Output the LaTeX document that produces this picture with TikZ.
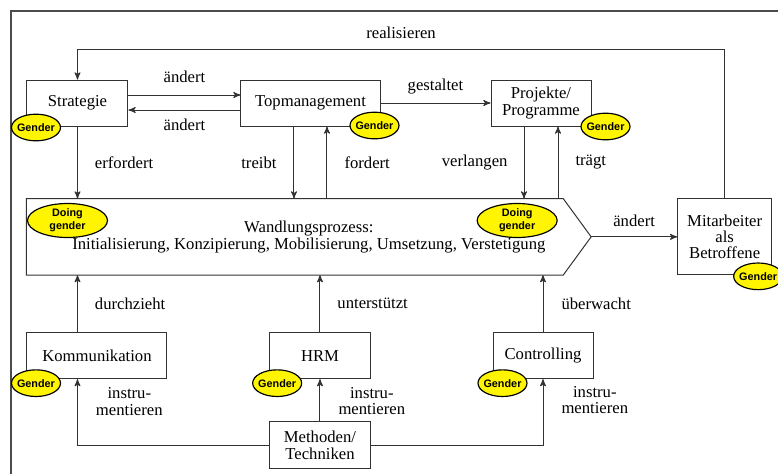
\documentclass[tikz,border=0pt]{standalone}
\usepackage{fontspec}
\setmainfont{Liberation Serif}
\newfontfamily\tagfont{Liberation Sans}
\usepackage{tikz}
\usetikzlibrary{arrows,positioning,shapes.geometric}
\definecolor{tagyellow}{RGB}{255,245,0}
\definecolor{linegray}{RGB}{50,50,50}
\tikzset{
    %Define standard arrow tip
    >=stealth',
    %Define style for boxes
    kasten/.style={
           rectangle,
           draw=linegray, line width=0.6pt,
           inner sep=0pt,
           align=center,
           font=\fontsize{10}{9.8}\selectfont,
           text centered},
    gendertag/.style={
           ellipse,
           draw=black, line width=0.7pt,
           fill=tagyellow,
           inner xsep=-1pt, inner ysep=0pt,
           minimum width=29.4pt,
           minimum height=16pt,
           font=\tagfont\bfseries\fontsize{6.5}{8}\selectfont},
    doingtag/.style={
           gendertag,
           align=center,
           minimum width=48pt,
           minimum height=20.4pt},
    % Define arrow style
    pfeil/.style={
           ->,
           draw=linegray, line width=0.6pt},
    verb/.style={
           font=\fontsize{10}{9.8}\selectfont,
           inner sep=0pt,
           align=center}
}
\begin{document}
\begin{tikzpicture}
\useasboundingbox (-46.5pt,61.8pt) rectangle (420.3pt,-222.6pt);
%frame
\draw[draw=black!70, line width=0.8pt] (-39.9pt,-222.6pt) -- (-39.9pt,55.2pt) -- (420.3pt,55.2pt);
%nodes
\node[kasten, minimum width=60.6pt, minimum height=27.6pt] (strat) at (0,0) {Strategie};
\node[kasten, minimum width=83.4pt, minimum height=27.6pt, right=67.2pt of strat] (topm) {Topmanagement};
\node[kasten, minimum width=60pt, minimum height=27.6pt, right=66pt of topm] (proj) {Projekte/\\Programme};
\node[verb, font=\fontsize{10}{10.2}\selectfont, minimum width=338.4pt, minimum height=45.6pt,
      below=43.2pt of strat.south west, anchor=north west] (wp)
      {Wandlungsprozess:\\Initialisierung, Konzipierung, Mobilisierung, Umsetzung, Verstetigung};
\node[kasten, minimum width=56.4pt, minimum height=45.6pt, right=51.6pt of wp] (mit) {Mitarbeiter\\als\\Betroffene};
\node[kasten, minimum width=84pt, minimum height=27.6pt, below=34.2pt of wp.south west, anchor=north west] (komm) {Kommunikation};
\node[kasten, minimum width=60pt, minimum height=27.6pt, right=61.2pt of komm] (hrm) {HRM};
\node[kasten, minimum width=60pt, minimum height=27.6pt, right=73.2pt of hrm] (ctrl) {Controlling};
\node[kasten, minimum width=60pt, minimum height=28.2pt, below=25.2pt of hrm] (meth) {Methoden/\\Techniken};
\draw[draw=linegray, line width=0.6pt] (wp.north west) -- ([xshift=-16.8pt]wp.north east) -- (wp.east)
    -- ([xshift=-16.8pt]wp.south east) -- (wp.south west) -- cycle;
%helper points
\coordinate (rtop) at ([yshift=18pt]strat.north);
\coordinate (tdn) at ([xshift=-9.9pt]topm.south);
\coordinate (tup) at ([xshift=9.9pt]topm.south);
\coordinate (pdn) at ([xshift=-10.2pt]proj.south);
\coordinate (pup) at ([xshift=10.2pt]proj.south);
\coordinate (kup) at (strat.south |- komm.north);
\coordinate (kin) at (strat.south |- komm.south);
%connectors
\draw[pfeil] ([yshift=4.8pt]strat.east) -- node[verb, midway, yshift=10.8pt] {ändert} ([yshift=4.8pt]topm.west);
\draw[pfeil] ([yshift=-4.2pt]topm.west) -- node[verb, midway, yshift=-9pt] {ändert} ([yshift=-4.2pt]strat.east);
\draw[pfeil] (topm) -- node[verb, midway, yshift=9.6pt] {gestaltet} (proj);
\draw[pfeil] (mit.north) |- node[verb, pos=0.75, yshift=10.2pt] {realisieren} (rtop) -- (strat.north);
\draw[pfeil] (strat.south) -- node[verb, midway, anchor=west, xshift=10.2pt] {erfordert} (strat.south |- wp.north);
\draw[pfeil] (tdn) -- node[verb, midway, anchor=east, xshift=-10.2pt] {treibt} (tdn |- wp.north);
\draw[pfeil] (tup |- wp.north) -- node[verb, midway, anchor=west, xshift=10.2pt] {fordert} (tup);
\draw[pfeil] (pdn) -- node[verb, midway, anchor=east, xshift=-9.6pt] {verlangen} (pdn |- wp.north);
\draw[pfeil] (pup |- wp.north) -- node[verb, midway, anchor=west, xshift=10.2pt] {trägt} (pup);
\draw[pfeil] (wp.east) -- node[verb, midway, yshift=9.6pt] {ändert} (mit.west);
\draw[pfeil] (kup) -- node[verb, midway, anchor=west, xshift=10.2pt] {durchzieht} (kup |- wp.south);
\draw[pfeil] (hrm.north) -- node[verb, midway, anchor=west, xshift=10.2pt] {unterstützt} (hrm.north |- wp.south);
\draw[pfeil] (ctrl.north) -- node[verb, midway, anchor=west, xshift=10.8pt] {überwacht} (ctrl.north |- wp.south);
\draw[pfeil] (meth.west) -| node[verb, pos=0.83, anchor=west, xshift=10.8pt] {instru-\\mentieren} (kin);
\draw[pfeil] (meth.north) -- node[verb, pos=0.48, anchor=west, xshift=10.8pt] {instru-\\mentieren} (hrm.south);
\draw[pfeil] (meth.east) -| node[verb, pos=0.84, anchor=west, xshift=10.8pt] {instru-\\mentieren} (ctrl.south);
%gender tags
\node[gendertag] (gstrat) at ([shift={(5.7pt,-0.6pt)}]strat.south west) {Gender};
\node[gendertag] (gtopm) at ([shift={(-3.6pt,0.6pt)}]topm.south east) {Gender};
\node[gendertag] (gproj) at ([shift={(8.4pt,0pt)}]proj.south east) {Gender};
\node[gendertag] (gmit) at ([shift={(-8.4pt,-0.6pt)}]mit.south east) {Gender};
\node[gendertag] (gkomm) at ([shift={(5.7pt,-2.4pt)}]komm.south west) {Gender};
\node[gendertag] (ghrm) at ([shift={(4.6pt,-2.4pt)}]hrm.south west) {Gender};
\node[gendertag] (gctrl) at ([shift={(6pt,-2.4pt)}]ctrl.south west) {Gender};
\node[doingtag] (dleft) at ([shift={(24.6pt,-13.2pt)}]wp.north west) {Doing\\gender};
\node[doingtag] (dright) at ([shift={(-44.4pt,-13.2pt)}]wp.north east) {Doing\\gender};
\end{tikzpicture}
\end{document}
